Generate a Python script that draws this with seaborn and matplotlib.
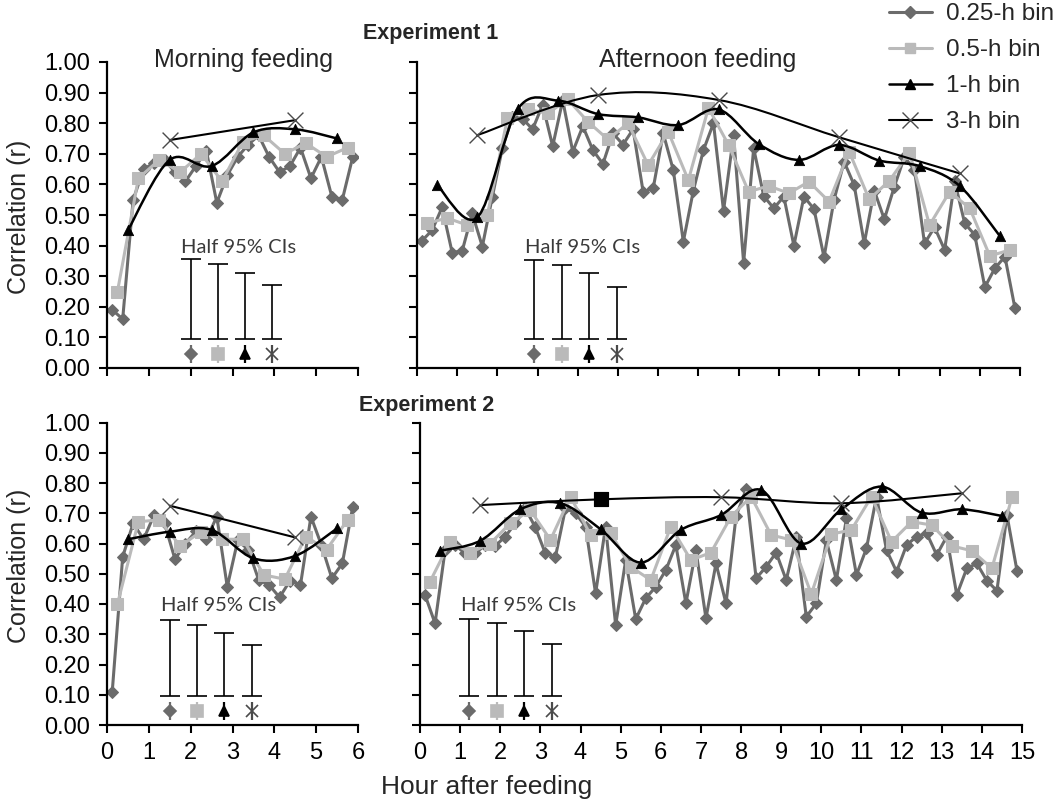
"""
Correlation by bin width, two experiments, morning and afternoon feeding.
"""

import numpy as np
import matplotlib
matplotlib.use("Agg")
import matplotlib.pyplot as plt
from matplotlib.path import Path
from matplotlib.patches import PathPatch
from matplotlib.lines import Line2D
import seaborn as sns

# ---------------- data ----------------
bin_labels = ["0.25-h bin", "0.5-h bin", "1-h bin", "3-h bin"]

# Experiment 1, morning feeding (0-6 h)
e1_am_q = [0.19, 0.16, 0.55, 0.65, 0.67, 0.68, 0.64, 0.61, 0.66, 0.71, 0.54, 0.63,
           0.69, 0.73, 0.76, 0.69, 0.64, 0.66, 0.72, 0.62, 0.69, 0.56, 0.55, 0.69]
e1_am_h = [0.25, 0.62, 0.68, 0.64, 0.70, 0.61, 0.74, 0.76, 0.70, 0.735, 0.69, 0.72]
e1_am_1 = [0.45, 0.68, 0.66, 0.77, 0.78, 0.75]
e1_am_3 = [0.745, 0.81]

# Experiment 1, afternoon feeding (0-15 h)
e1_pm_q = [0.416, 0.45, 0.525, 0.377, 0.383, 0.505, 0.397, 0.56, 0.72, 0.82,
           0.815, 0.78, 0.86, 0.725, 0.875, 0.707, 0.79, 0.712, 0.667, 0.767,
           0.73, 0.78, 0.576, 0.587, 0.767, 0.647, 0.413, 0.58, 0.712, 0.80,
           0.514, 0.76, 0.344, 0.718, 0.562, 0.522, 0.56, 0.40, 0.56, 0.52,
           0.362, 0.55, 0.674, 0.598, 0.407, 0.58, 0.486, 0.593, 0.69, 0.647,
           0.407, 0.46, 0.386, 0.61, 0.473, 0.435, 0.264, 0.326, 0.364, 0.195]
e1_pm_h = [0.473, 0.49, 0.467, 0.50, 0.816, 0.845, 0.832, 0.878, 0.805, 0.747,
           0.80, 0.663, 0.772, 0.614, 0.85, 0.729, 0.576, 0.595, 0.571, 0.609,
           0.544, 0.707, 0.551, 0.612, 0.704, 0.467, 0.576, 0.522, 0.366, 0.386]
e1_pm_1 = [0.598, 0.492, 0.845, 0.874, 0.83, 0.819, 0.794, 0.845, 0.732, 0.68,
           0.729, 0.678, 0.66, 0.595, 0.431]
e1_pm_3 = [0.761, 0.892, 0.876, 0.754, 0.636]

# Experiment 2, morning feeding
e2_am_q = [0.11, 0.556, 0.667, 0.614, 0.694, 0.667, 0.548, 0.60, 0.64, 0.614, 0.689, 0.457,
           0.61, 0.58, 0.48, 0.463, 0.422, 0.477, 0.463, 0.689, 0.595, 0.485, 0.534, 0.722]
e2_am_h = [0.40, 0.672, 0.678, 0.592, 0.639, 0.614, 0.614, 0.496, 0.482, 0.623, 0.58, 0.678]
e2_am_1 = [0.614, 0.639, 0.645, 0.551, 0.559, 0.65]
e2_am_3 = [0.725, 0.62]

# Experiment 2, afternoon feeding
e2_pm_q = [0.43, 0.336, 0.578, 0.595, 0.567, 0.567, 0.595, 0.592, 0.623, 0.667,
           0.716, 0.653, 0.567, 0.556, 0.716, 0.70, 0.656, 0.435, 0.656, 0.33,
           0.545, 0.35, 0.419, 0.457, 0.512, 0.595, 0.402, 0.578, 0.353, 0.534,
           0.402, 0.69, 0.779, 0.485, 0.523, 0.57, 0.479, 0.62, 0.358, 0.402,
           0.61, 0.479, 0.683, 0.496, 0.584, 0.755, 0.578, 0.507, 0.595, 0.623,
           0.634, 0.562, 0.623, 0.43, 0.518, 0.534, 0.477, 0.444, 0.694, 0.51]
e2_pm_h = [0.474, 0.606, 0.57, 0.60, 0.667, 0.71, 0.612, 0.755, 0.628, 0.634,
           0.523, 0.479, 0.656, 0.545, 0.57, 0.689, 0.755, 0.628, 0.612, 0.433,
           0.631, 0.645, 0.755, 0.606, 0.672, 0.661, 0.592, 0.576, 0.518, 0.753]
e2_pm_1 = [0.576, 0.609, 0.713, 0.733, 0.647, 0.537, 0.645, 0.694, 0.777, 0.60,
           0.713, 0.788, 0.702, 0.713, 0.691]
e2_pm_3 = [0.727, 0.746, 0.753, 0.733, 0.766]
e2_pm_3_square = 1  # this point is drawn as a filled black square

# half 95% CIs (x position of each bar, top of bar), same order as bin_labels
ci_x_e1_am = [2.0, 2.65, 3.3, 3.95]
ci_x_e1_pm = [2.91, 3.6, 4.28, 4.98]
ci_x_e2_am = [1.5, 2.15, 2.8, 3.47]
ci_x_e2_pm = [1.23, 1.91, 2.59, 3.28]
ci_top_e1_am = [0.355, 0.34, 0.31, 0.27]
ci_top_e1_pm = [0.353, 0.337, 0.311, 0.265]
ci_top_e2_am = [0.347, 0.33, 0.303, 0.264]
ci_top_e2_pm = [0.349, 0.336, 0.312, 0.268]
ci_bottom = 0.095
ci_marker_y = 0.045

# ---------------- style ----------------
sns.set_style("ticks")
plt.rcParams["font.family"] = ["Liberation Sans", "DejaVu Sans"]

c_q = "#6b6b6b"
c_h = "#bababa"
c_1 = "black"
c_3 = "#4a4a4a"

W, H = 1064, 800
fig = plt.figure(figsize=(W / 100, H / 100), dpi=100)


def px_axes(left, right, top, bottom):
    return fig.add_axes([left / W, 1 - bottom / H, (right - left) / W, (bottom - top) / H])


ax_tl = px_axes(107, 358, 62, 368)
ax_tr = px_axes(417, 1020, 62, 368)
ax_bl = px_axes(107, 358, 422.5, 725)
ax_br = px_axes(420, 1022, 422.5, 725)


def smooth_line(ax, x, y, color, lw):
    # Excel-style smoothed line: cubic Bezier segments through the points
    pts = np.column_stack([np.asarray(x, float), np.asarray(y, float)])
    verts = [pts[0]]
    codes = [Path.MOVETO]
    if len(pts) < 3:
        verts.append(pts[1])
        codes.append(Path.LINETO)
    else:
        ext = np.vstack([pts[0], pts, pts[-1]])
        for i in range(len(pts) - 1):
            p0, p1, p2, p3 = ext[i], ext[i + 1], ext[i + 2], ext[i + 3]
            verts += [p1 + (p2 - p0) / 6, p2 - (p3 - p1) / 6, p2]
            codes += [Path.CURVE4] * 3
    ax.add_patch(PathPatch(Path(verts, codes), fill=False, edgecolor=color,
                           lw=lw, zorder=4, capstyle="round"))


def draw_panel(ax, xmax, q, h, one, three, ci_x, ci_top, square_idx=None,
               xlabels=True, ylabels=True):
    xq = np.arange(0.125, xmax, 0.25)
    xh = np.arange(0.25, xmax, 0.5)
    x1 = np.arange(0.5, xmax, 1.0)
    x3 = np.arange(1.5, xmax, 3.0)

    sns.lineplot(x=xq, y=q, ax=ax, color=c_q, lw=2.2, marker="D", ms=6.5,
                 mec=c_q, estimator=None, sort=False, zorder=2)
    sns.lineplot(x=xh, y=h, ax=ax, color=c_h, lw=2.2, marker="s", ms=8,
                 mec=c_h, estimator=None, sort=False, zorder=3)

    smooth_line(ax, x1, one, c_1, 1.8)
    sns.scatterplot(x=x1, y=one, ax=ax, color=c_1, marker="^", s=55,
                    edgecolor=c_1, zorder=5)

    smooth_line(ax, x3, three, c_1, 1.5)
    three = np.asarray(three)
    keep = np.ones(len(three), bool)
    if square_idx is not None:
        keep[square_idx] = False
        sns.scatterplot(x=x3[[square_idx]], y=three[[square_idx]], ax=ax,
                        color="black", marker="s", s=110, edgecolor="black", zorder=6)
    sns.scatterplot(x=x3[keep], y=three[keep], ax=ax, color=c_3, marker="x",
                    s=130, linewidth=1.0, zorder=6)

    # half 95% CI bars with the series markers below them
    ci_x = np.asarray(ci_x)
    ci_top = np.asarray(ci_top)
    ax.errorbar(ci_x, (ci_top + ci_bottom) / 2, yerr=(ci_top - ci_bottom) / 2,
                fmt="none", ecolor="black", elinewidth=1.2, capsize=7,
                capthick=1.2, zorder=4)
    for xi, col, mk, ms in zip(ci_x, [c_q, c_h, c_1, c_3], ["D", "s", "^", "x"],
                               [6, 8, 6.5, 9]):
        ax.vlines(xi, ci_marker_y - 0.03, ci_marker_y + 0.03, color=col, lw=1.6, zorder=4)
        ax.plot([xi], [ci_marker_y], marker=mk, ms=ms, color=col, mec=col,
                mew=1.2, ls="none", zorder=5)
    ax.text(ci_x[0] - 0.22, 0.395, "Half 95% CIs", ha="left", va="center",
            fontsize=14.5, color="#3a3a3a", family=["Lato", "DejaVu Sans"])

    ax.set_xlim(0, xmax)
    ax.set_ylim(0, 1)
    ax.set_xticks(range(0, int(xmax) + 1))
    ax.set_yticks(np.round(np.arange(0, 1.01, 0.1), 2))
    if ylabels:
        ax.set_yticklabels([f"{v:.2f}" for v in np.arange(0, 1.01, 0.1)])
    else:
        ax.set_yticklabels([])
    if not xlabels:
        ax.set_xticklabels([])
    ax.set_xlabel("")
    ax.set_ylabel("")
    sns.despine(ax=ax)
    for s in ["left", "bottom"]:
        ax.spines[s].set_linewidth(1.6)
        ax.spines[s].set_color("black")
    ax.tick_params(direction="out", length=6, width=1.5, labelsize=17,
                   colors="black", pad=6)
    ax.set_facecolor("white")


draw_panel(ax_tl, 6, e1_am_q, e1_am_h, e1_am_1, e1_am_3, ci_x_e1_am, ci_top_e1_am,
           xlabels=False)
draw_panel(ax_tr, 15, e1_pm_q, e1_pm_h, e1_pm_1, e1_pm_3, ci_x_e1_pm, ci_top_e1_pm,
           xlabels=False, ylabels=False)
draw_panel(ax_bl, 6, e2_am_q, e2_am_h, e2_am_1, e2_am_3, ci_x_e2_am, ci_top_e2_am)
draw_panel(ax_br, 15, e2_pm_q, e2_pm_h, e2_pm_1, e2_pm_3, ci_x_e2_pm, ci_top_e2_pm,
           square_idx=e2_pm_3_square, ylabels=False)

# titles and axis labels
fig.text(431 / W, 1 - 33 / H, "Experiment 1", ha="center", va="center",
         fontsize=15.5, fontweight="bold")
fig.text(427 / W, 1 - 406 / H, "Experiment 2", ha="center", va="center",
         fontsize=15.5, fontweight="bold")
fig.text(244 / W, 1 - 60 / H, "Morning feeding", ha="center", va="center", fontsize=18)
fig.text(698 / W, 1 - 60 / H, "Afternoon feeding", ha="center", va="center", fontsize=18)
fig.text(487 / W, 1 - 787 / H, "Hour after feeding", ha="center", va="center", fontsize=19)
fig.text(19 / W, 1 - 217 / H, "Correlation (r)", rotation=90, ha="center",
         va="center", fontsize=18)
fig.text(19 / W, 1 - 566 / H, "Correlation (r)", rotation=90, ha="center",
         va="center", fontsize=18)

# legend
handles = [
    Line2D([], [], color=c_q, lw=2.2, marker="D", ms=6, mec=c_q),
    Line2D([], [], color=c_h, lw=2.2, marker="s", ms=7, mec=c_h),
    Line2D([], [], color=c_1, lw=1.8, marker="^", ms=7, mec=c_1),
    Line2D([], [], color=c_1, lw=1.5, marker="x", ms=11, mec=c_3, mew=1.0),
]
fig.legend(handles, bin_labels, loc="upper left", bbox_to_anchor=(889 / W, 1 - 3 / H),
           frameon=False, fontsize=17.5, handlelength=1.75, handletextpad=0.6,
           labelspacing=0.58, borderpad=0, borderaxespad=0)

fig.savefig("out.png", dpi=100, facecolor="white")
